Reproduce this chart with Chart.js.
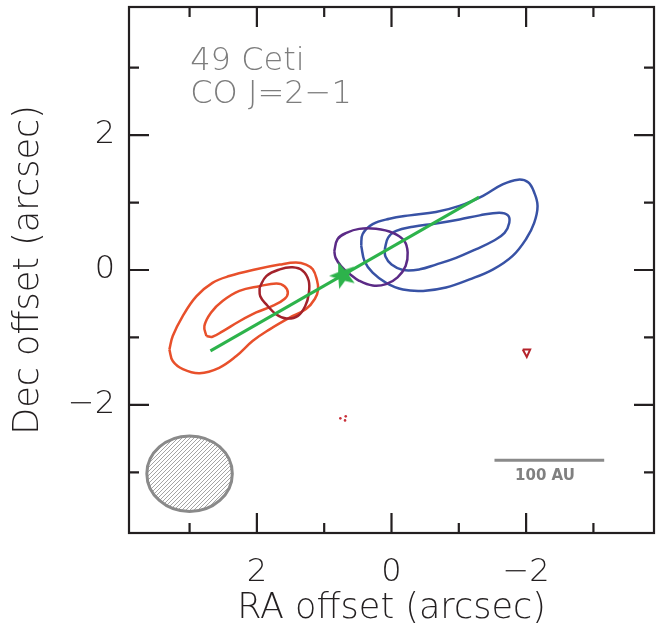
<!DOCTYPE html>
<html>
<head>
<meta charset="utf-8">
<script src="https://cdn.jsdelivr.net/npm/chart.js@4"></script>
<style>
  html, body { margin: 0; padding: 0; background: #fff; }
</style>
</head>
<body>
<canvas id="myChart" width="660" height="632"></canvas>
<script>
// contour outlines, [RA offset, Dec offset] in arcsec
const redOuter = [[3.30,-1.18],[3.25,-0.98],[3.10,-0.68],[2.90,-0.39],[2.66,-0.19],[2.41,-0.09],[2.01,0.01],[1.66,0.08],[1.42,0.11],[1.27,0.08],[1.17,0.01],[1.11,-0.14],[1.09,-0.29],[1.14,-0.43],[1.27,-0.58],[1.52,-0.71],[1.81,-0.88],[2.06,-1.05],[2.31,-1.28],[2.56,-1.45],[2.85,-1.53],[3.10,-1.47],[3.25,-1.35]];
const redInner = [[2.75,-0.98],[2.78,-0.83],[2.68,-0.63],[2.51,-0.46],[2.26,-0.31],[1.96,-0.24],[1.71,-0.20],[1.59,-0.24],[1.54,-0.34],[1.59,-0.43],[1.76,-0.53],[2.01,-0.63],[2.26,-0.76],[2.51,-0.91],[2.66,-0.99]];
const darkRed = [[1.96,-0.26],[1.86,-0.09],[1.66,0.01],[1.47,0.04],[1.32,-0.01],[1.23,-0.16],[1.23,-0.36],[1.28,-0.53],[1.39,-0.68],[1.56,-0.72],[1.71,-0.66],[1.86,-0.51],[1.95,-0.39]];
const purple = [[0.85,0.28],[0.80,0.46],[0.67,0.55],[0.48,0.61],[0.23,0.61],[-0.02,0.55],[-0.19,0.43],[-0.24,0.26],[-0.21,0.06],[-0.09,-0.11],[0.08,-0.21],[0.28,-0.23],[0.48,-0.16],[0.62,-0.06],[0.75,0.06],[0.83,0.18]];
const blueOuter = [[0.45,0.36],[0.43,0.53],[0.28,0.68],[0.03,0.76],[-0.27,0.81],[-0.66,0.86],[-1.01,0.95],[-1.36,1.10],[-1.65,1.27],[-1.88,1.34],[-2.03,1.30],[-2.12,1.15],[-2.17,0.95],[-2.12,0.70],[-2.00,0.46],[-1.80,0.21],[-1.51,0.01],[-1.16,-0.14],[-0.81,-0.26],[-0.47,-0.31],[-0.17,-0.29],[0.08,-0.19],[0.28,-0.04],[0.40,0.13]];
const blueInner = [[0.10,0.31],[0.05,0.48],[-0.07,0.58],[-0.32,0.64],[-0.66,0.69],[-1.01,0.75],[-1.31,0.81],[-1.60,0.85],[-1.73,0.81],[-1.75,0.70],[-1.68,0.55],[-1.51,0.43],[-1.26,0.31],[-0.96,0.18],[-0.66,0.08],[-0.42,0.01],[-0.17,0.00],[0.00,0.08],[0.09,0.20]];
const noiseTriangle = [[-1.95,-1.18],[-2.06,-1.18],[-2.01,-1.29]];
const noiseSpecks = [[0.76,-2.20],[0.68,-2.17],[0.69,-2.23]];

// disk midplane and star position
const diskLine = [[2.69,-1.20],[-1.30,1.08]];
const starPos = [0.72,-0.08];

// beam (center, semi-axes) and 100 AU scale bar
const beamCenter = [3.00,-3.02];
const beamAxes = [0.635,0.56];
const scaleBarRA = [-1.53,-3.16];
const scaleBarDec = -2.82;
const scaleBarLabel = "100 AU";
const scaleBarLabelPos = [-2.28,-3.05];

// labels
const titleLines = ["49 Ceti", "CO J=2\u22121"];
const titlePos = [2.99, 2.96];
const axisRange = [-3.9, 3.9];
const tickValues = [-3,-2,-1,0,1,2,3];
const labelledTicks = [-2,0,2];

function toPoints(pairs, close) {
    var pts = pairs.map(function (p) { return { x: p[0], y: p[1] }; });
    if (close) pts.push({ x: pairs[0][0], y: pairs[0][1] });
    return pts;
}

function fmtTick(v) {
    if (!labelledTicks.includes(v)) return "";
    return v < 0 ? "\u2212" + Math.abs(v) : String(v);
}

// filled 5 point star used as the point style
function makeStar(r, color) {
    var c = document.createElement("canvas");
    c.width = c.height = 2 * r + 2;
    var g = c.getContext("2d");
    g.translate(r + 1, r + 1);
    g.rotate(-0.35);
    g.beginPath();
    for (var i = 0; i < 10; i++) {
        var rad = i % 2 === 0 ? r : r * 0.42;
        var a = -Math.PI / 2 + i * Math.PI / 5;
        g.lineTo(rad * Math.cos(a), rad * Math.sin(a));
    }
    g.closePath();
    g.fillStyle = color;
    g.fill();
    return c;
}

function hatch(ctx) {
    var c = document.createElement("canvas");
    c.width = c.height = 4;
    var g = c.getContext("2d");
    g.strokeStyle = "#9a9a9a";
    g.lineWidth = 0.9;
    g.beginPath();
    g.moveTo(0, 4); g.lineTo(4, 0);
    g.moveTo(-1, 1); g.lineTo(1, -1);
    g.moveTo(3, 5); g.lineTo(5, 3);
    g.stroke();
    return ctx.createPattern(c, "repeat");
}

function contour(pairs, color) {
    return {
        data: toPoints(pairs, true),
        showLine: true,
        borderColor: color,
        borderWidth: 2.5,
        pointRadius: 0,
        tension: 0.4,
        fill: false,
    };
}

// beam, labels, frame and inward ticks
const decorations = {
    id: "decorations",
    afterDatasetsDraw(chart) {
        var ctx = chart.ctx;
        var area = chart.chartArea;
        var xs = chart.scales.x, ys = chart.scales.y;
        ctx.save();

        var bx = xs.getPixelForValue(beamCenter[0]);
        var by = ys.getPixelForValue(beamCenter[1]);
        var rx = Math.abs(xs.getPixelForValue(beamCenter[0] + beamAxes[0]) - bx);
        var ry = Math.abs(ys.getPixelForValue(beamCenter[1] + beamAxes[1]) - by);
        ctx.beginPath();
        ctx.ellipse(bx, by, rx, ry, 0, 0, 2 * Math.PI);
        ctx.fillStyle = hatch(ctx);
        ctx.fill();
        ctx.lineWidth = 3;
        ctx.strokeStyle = "#8a8a8a";
        ctx.stroke();

        ctx.fillStyle = "#808080";
        ctx.font = "bold 15px 'DejaVu Sans'";
        ctx.textAlign = "center";
        ctx.textBaseline = "middle";
        ctx.fillText(scaleBarLabel, xs.getPixelForValue(scaleBarLabelPos[0]), ys.getPixelForValue(scaleBarLabelPos[1]));

        ctx.fillStyle = "#7d7d7d";
        ctx.font = "300 32px 'DejaVu Sans'";
        ctx.textAlign = "left";
        ctx.textBaseline = "alphabetic";
        var tx = xs.getPixelForValue(titlePos[0]);
        var ty = ys.getPixelForValue(titlePos[1]);
        for (var i = 0; i < titleLines.length; i++) {
            ctx.fillText(titleLines[i], tx, ty + i * 33);
        }

        ctx.strokeStyle = "#231f20";
        ctx.lineWidth = 2.2;
        ctx.beginPath();
        for (var j = 0; j < tickValues.length; j++) {
            var v = tickValues[j];
            var len = labelledTicks.includes(v) ? 20 : 10;
            var px = xs.getPixelForValue(v);
            var py = ys.getPixelForValue(v);
            ctx.moveTo(px, area.bottom); ctx.lineTo(px, area.bottom - len);
            ctx.moveTo(px, area.top); ctx.lineTo(px, area.top + len);
            ctx.moveTo(area.left, py); ctx.lineTo(area.left + len, py);
            ctx.moveTo(area.right, py); ctx.lineTo(area.right - len, py);
        }
        ctx.stroke();
        ctx.strokeRect(area.left, area.top, area.right - area.left, area.bottom - area.top);
        ctx.restore();
    },
};

// chart.js draws the first dataset on top, so the star goes first
const data = {
    datasets: [
        {
            data: toPoints([starPos], false),
            pointStyle: makeStar(14, "#2db34b"),
            pointRadius: 14,
        },
        {
            data: toPoints(diskLine, false),
            showLine: true,
            borderColor: "#2db34b",
            borderWidth: 3,
            pointRadius: 0,
        },
        {
            data: [{ x: scaleBarRA[0], y: scaleBarDec }, { x: scaleBarRA[1], y: scaleBarDec }],
            showLine: true,
            borderColor: "#8a8a8a",
            borderWidth: 3,
            pointRadius: 0,
        },
        contour(darkRed, "#a3222b"),
        contour(redInner, "#e8502b"),
        contour(redOuter, "#e8502b"),
        contour(purple, "#5b2a86"),
        contour(blueInner, "#3852a5"),
        contour(blueOuter, "#3852a5"),
        {
            data: toPoints(noiseTriangle, true),
            showLine: true,
            borderColor: "#b5232b",
            borderWidth: 2,
            pointRadius: 0,
        },
        {
            data: toPoints(noiseSpecks, false),
            showLine: false,
            pointRadius: 1.3,
            borderWidth: 0,
            backgroundColor: "#c9303a",
        },
    ],
};

const tickFont = { family: "'DejaVu Sans'", size: 32, weight: 300 };
const titleFont = { family: "'DejaVu Sans'", size: 35, weight: 300 };

const config = {
    type: "scatter",
    data,
    options: {
        responsive: false,
        devicePixelRatio: 1,
        animation: false,
        events: [],
        layout: { autoPadding: false, padding: { top: 7, right: 6, left: 0, bottom: 0 } },
        plugins: { legend: { display: false }, tooltip: { enabled: false } },
        scales: {
            x: {
                type: "linear",
                reverse: true,
                min: axisRange[0],
                max: axisRange[1],
                grid: { display: false, drawTicks: false },
                border: { display: false },
                ticks: { stepSize: 1, includeBounds: false, autoSkip: false, maxRotation: 0, padding: 20, color: "#231f20", font: tickFont, callback: fmtTick },
                title: { display: true, text: "RA offset (arcsec)", color: "#231f20", font: titleFont, padding: { top: 0, bottom: 2 } },
                afterFit(scale) {
                    scale.height = 99;
                    scale.paddingLeft = 0;
                    scale.paddingRight = 0;
                },
            },
            y: {
                type: "linear",
                min: axisRange[0],
                max: axisRange[1],
                grid: { display: false, drawTicks: false },
                border: { display: false },
                ticks: { stepSize: 1, includeBounds: false, autoSkip: false, padding: 14, color: "#231f20", font: tickFont, callback: fmtTick },
                title: { display: true, text: "Dec offset (arcsec)", color: "#231f20", font: titleFont, padding: { top: 8, bottom: 0 } },
                afterFit(scale) {
                    scale.width = 129;
                    scale.paddingTop = 0;
                    scale.paddingBottom = 0;
                },
            },
        },
    },
    plugins: [decorations],
};

var myChart = new Chart(document.getElementById("myChart"), config);
</script>
</body>
</html>
